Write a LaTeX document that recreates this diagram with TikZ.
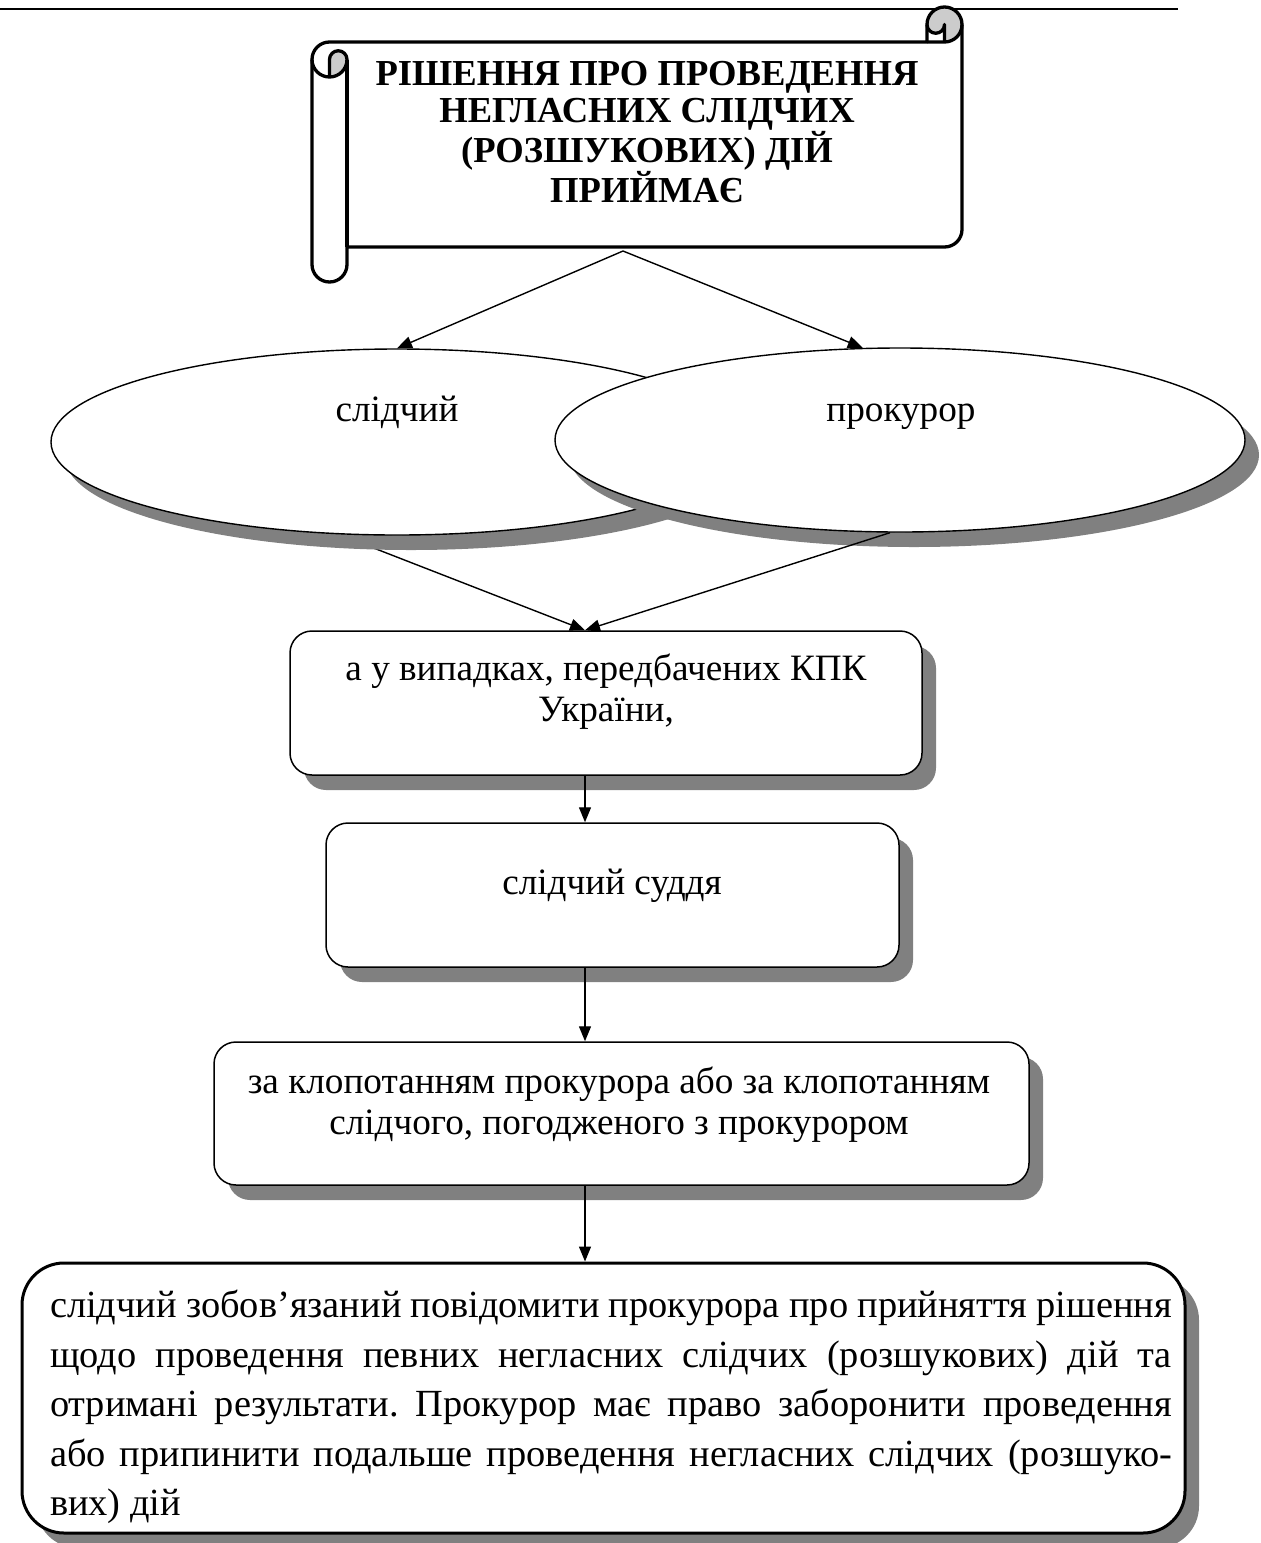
\documentclass[tikz,border=0pt]{standalone}
\usepackage{fontspec}
\setmainfont{Liberation Serif}
\usetikzlibrary{shapes.geometric,shadows,arrows.meta}
\definecolor{shgray}{HTML}{808080}
\definecolor{curlgray}{HTML}{CCCCCC}
\pgfdeclarelayer{bg}
\pgfsetlayers{bg,main}
\frenchspacing
\begin{document}
\begin{tikzpicture}[x=1pt,y=1pt,
  every node/.style={font=\fontsize{37.2}{41}\selectfont},
  shad/.style={drop shadow={shadow xshift=14pt,shadow yshift=-15pt,fill=shgray,opacity=1}},
  oval/.style={ellipse, draw, line width=1.4pt, fill=white, inner sep=0pt, shad},
  rbox/.style={draw, line width=1.5pt, fill=white, rounded corners=22pt, inner sep=0pt, shad},
  bigbox/.style={draw, line width=3pt, fill=white, rounded corners=42pt, inner sep=0pt, shad},
  txt/.style={inner sep=0pt, align=center},
  arr/.style={line width=1.4pt, -{Triangle[length=15pt,width=12pt]}},
  scrollline/.style={line width=3.3pt, line join=round},
]
\useasboundingbox (0,0) rectangle (1261,-1543);

% header rule
\draw[line width=2.5pt] (0,-9) -- (1178,-9);

% scroll (horizontal scroll shape)
\fill[white] (962,-24.5) arc[start angle=0,end angle=-90,radius=17.5pt]
  -- (944.5,-24.5) arc[start angle=0,end angle=-180,radius=8.75pt]
  -- (927,-42) -- (329.5,-42) arc[start angle=90,end angle=180,radius=17.5pt]
  -- (312,-264.5) arc[start angle=-180,end angle=0,radius=17.5pt]
  -- (347,-247) -- (944.5,-247) arc[start angle=-90,end angle=0,radius=17.5pt]
  -- cycle;
\fill[curlgray] (329.5,-77) arc[start angle=-90,end angle=0,radius=17.5pt]
  arc[start angle=0,end angle=180,radius=8.75pt] -- cycle;
\fill[curlgray] (944.5,-42) arc[start angle=-90,end angle=180,radius=17.5pt]
  arc[start angle=-180,end angle=0,radius=8.75pt] -- cycle;
\draw[scrollline] (312,-59.5) arc[start angle=180,end angle=90,radius=17.5pt]
  -- (927,-42) -- (927,-24.5) arc[start angle=-180,end angle=-360,radius=17.5pt]
  -- (962,-229.5) arc[start angle=0,end angle=-90,radius=17.5pt]
  -- (347,-247) -- (347,-264.5) arc[start angle=0,end angle=-180,radius=17.5pt]
  -- cycle;
\draw[scrollline] (927,-42) -- (944.5,-42) arc[start angle=-90,end angle=0,radius=17.5pt];
\draw[scrollline] (944.5,-42) -- (944.5,-24.5) arc[start angle=0,end angle=-180,radius=8.75pt];
\draw[scrollline] (329.5,-77) -- (329.5,-59.5) arc[start angle=-180,end angle=-360,radius=8.75pt]
  arc[start angle=0,end angle=-180,radius=17.5pt];
\draw[scrollline] (347,-59.5) -- (347,-247);
\node[txt, font=\bfseries\fontsize{36.6}{37}\selectfont] (sc) at (647,-132)
  {РІШЕННЯ ПРО ПРОВЕДЕННЯ\\НЕГЛАСНИХ СЛІДЧИХ\\(РОЗШУКОВИХ) ДІЙ\\ПРИЙМАЄ};
\coordinate (sA) at (623,-251);

% ellipses
\node[oval, minimum width=692pt, minimum height=186pt] (sl) at (397,-442) {};
\node[inner sep=0pt, anchor=base] (slt) at (397,-421) {слідчий};
\node[oval, minimum width=690pt, minimum height=184pt] (pr) at (900,-440) {};
\node[inner sep=0pt, anchor=base] (prt) at (901,-421) {прокурор};

% boxes
\node[rbox, minimum width=632pt, minimum height=144pt] (b1) at (606,-703) {};
\node[txt] (b1t) at (606,-692) {а у випадках, передбачених КПК\\України,};
\node[rbox, minimum width=573pt, minimum height=144pt] (b2) at (612.5,-895) {};
\node[txt] (b2t) at (612,-886) {слідчий суддя};
\node[rbox, minimum width=815pt, minimum height=143pt] (b3) at (621.5,-1113.5) {};
\node[txt] (b3t) at (619,-1105) {за клопотанням прокурора або за клопотанням\\слідчого, погодженого з прокурором};
\node[bigbox, minimum width=1163pt, minimum height=270pt] (b4) at (603.5,-1398) {};
\node[inner sep=0pt, align=left, font=\fontsize{38.4}{49.5}\selectfont] (b4t) at (611,-1407) {%
\makebox[1122pt][s]{слідчий зобов’язаний повідомити прокурора про прийняття рішення}\\
\makebox[1122pt][s]{щодо проведення певних негласних слідчих (розшукових) дій та}\\
\makebox[1122pt][s]{отримані результати. Прокурор має право заборонити проведення}\\
\makebox[1122pt][s]{або припинити подальше проведення негласних слідчих (розшуко-}\\
\makebox[1122pt][l]{вих) дій}};

% connectors
\coordinate (xl) at (585,0);
\draw[arr] (sA) -- (sl.north);
\draw[arr] (sA) -- (pr.112);
\begin{pgfonlayer}{bg}
\draw[arr] ([xshift=-55pt]sl.south) -- (b1.north -| xl);
\end{pgfonlayer}
\draw[arr] ([xshift=-10pt]pr.south) -- (b1.north -| xl);
\draw[arr] (b1.south -| xl) -- (b2.north -| xl);
\draw[arr] (b2.south -| xl) -- (b3.north -| xl);
\draw[arr] (b3.south -| xl) -- (b4.north -| xl);
\end{tikzpicture}
\end{document}
